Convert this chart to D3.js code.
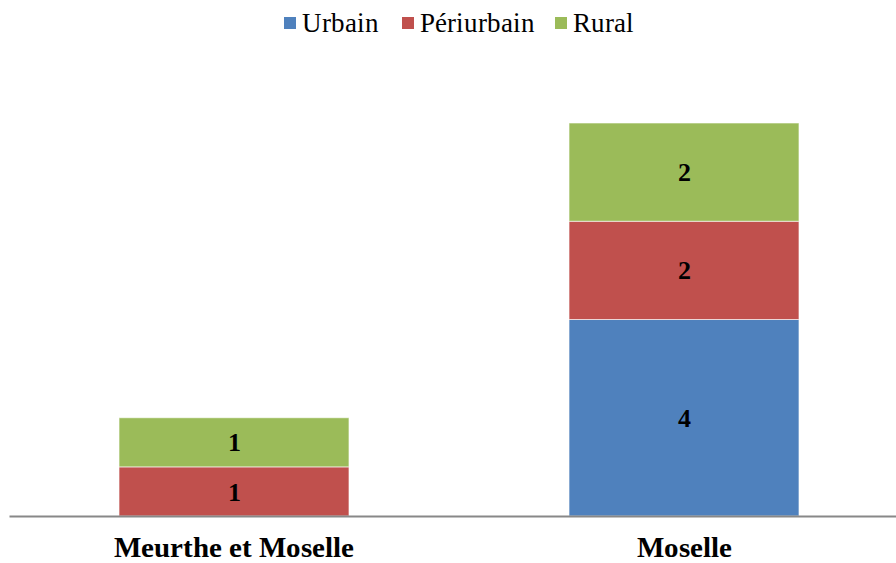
<!DOCTYPE html>
<html>
<head>
<meta charset="utf-8">
<script src="https://cdn.jsdelivr.net/npm/d3@7"></script>
<style>
  @font-face {
    font-family: "ChartSerif";
    src: local("Liberation Serif"), local("LiberationSerif"), local("LiberationSerif-Regular");
    font-weight: 400;
  }
  @font-face {
    font-family: "ChartSerif";
    src: local("Liberation Serif Bold"), local("LiberationSerif-Bold");
    font-weight: 700;
  }
  html, body { margin: 0; padding: 0; background: #fff; }
  svg { display: block; }
</style>
</head>
<body>
<svg id="chart" width="896" height="563"></svg>
<script>
// Departments and counts per zone type
const categories = ["Meurthe et Moselle", "Moselle"];
const seriesNames = ["Urbain", "Périurbain", "Rural"];
const urbain = [0, 4];
const periurbain = [1, 2];
const rural = [1, 2];
const colors = ["#4F81BD", "#C0504D", "#9BBB59"];

const rows = categories.map((c, i) => ({
  cat: c, "Urbain": urbain[i], "Périurbain": periurbain[i], "Rural": rural[i]
}));

const serif = '"ChartSerif", "Liberation Serif", "Times New Roman", serif';
const svg = d3.select("#chart");
const baseY = 516;

const x = d3.scaleBand()
  .domain(categories)
  .range([9, 909])
  .paddingInner(0.489)
  .paddingOuter(0.2445);

const y = d3.scaleLinear()
  .domain([0, 8])
  .range([baseY, 123]);

const stack = d3.stack().keys(seriesNames);
const layers = stack(rows);

const color = d3.scaleOrdinal().domain(seriesNames).range(colors);

// Legend
const legendX = [284, 402, 555];
const legend = svg.append("g");
seriesNames.forEach((name, i) => {
  legend.append("rect")
    .attr("x", legendX[i]).attr("y", 17)
    .attr("width", 12).attr("height", 12)
    .attr("fill", colors[i]);
  legend.append("text")
    .attr("x", legendX[i] + 18).attr("y", 32)
    .style("font-family", serif)
    .attr("font-size", 26.5)
    .attr("fill", "#000")
    .text(name);
});

const g = svg.append("g");
layers.forEach(layer => {
  const segs = layer.filter(d => d[1] - d[0] > 0);
  g.selectAll(null)
    .data(segs)
    .enter()
    .append("rect")
    .attr("x", d => x(d.data.cat))
    .attr("width", x.bandwidth())
    .attr("y", d => y(d[1]))
    .attr("height", d => y(d[0]) - y(d[1]))
    .attr("fill", color(layer.key))
    .attr("stroke", "#ffffff")
    .attr("stroke-opacity", 0.6)
    .attr("stroke-width", 1);

  g.selectAll(null)
    .data(segs)
    .enter()
    .append("text")
    .attr("x", d => x(d.data.cat) + x.bandwidth() / 2)
    .attr("y", d => (y(d[0]) + y(d[1])) / 2)
    .attr("dy", "0.35em")
    .attr("text-anchor", "middle")
    .style("font-family", serif)
    .attr("font-weight", "bold")
    .attr("font-size", 26)
    .attr("fill", "#000")
    .text(d => d[1] - d[0]);
});

// Category axis
const axis = svg.append("g")
  .attr("transform", `translate(0,${baseY})`)
  .call(d3.axisBottom(x).tickSize(0).tickPadding(20));
axis.attr("font-family", null);
axis.select(".domain").attr("stroke", "#888888").attr("stroke-width", 2);
axis.selectAll(".tick text")
  .style("font-family", serif)
  .attr("font-weight", "bold")
  .attr("font-size", 29)
  .attr("fill", "#000");
</script>
</body>
</html>
